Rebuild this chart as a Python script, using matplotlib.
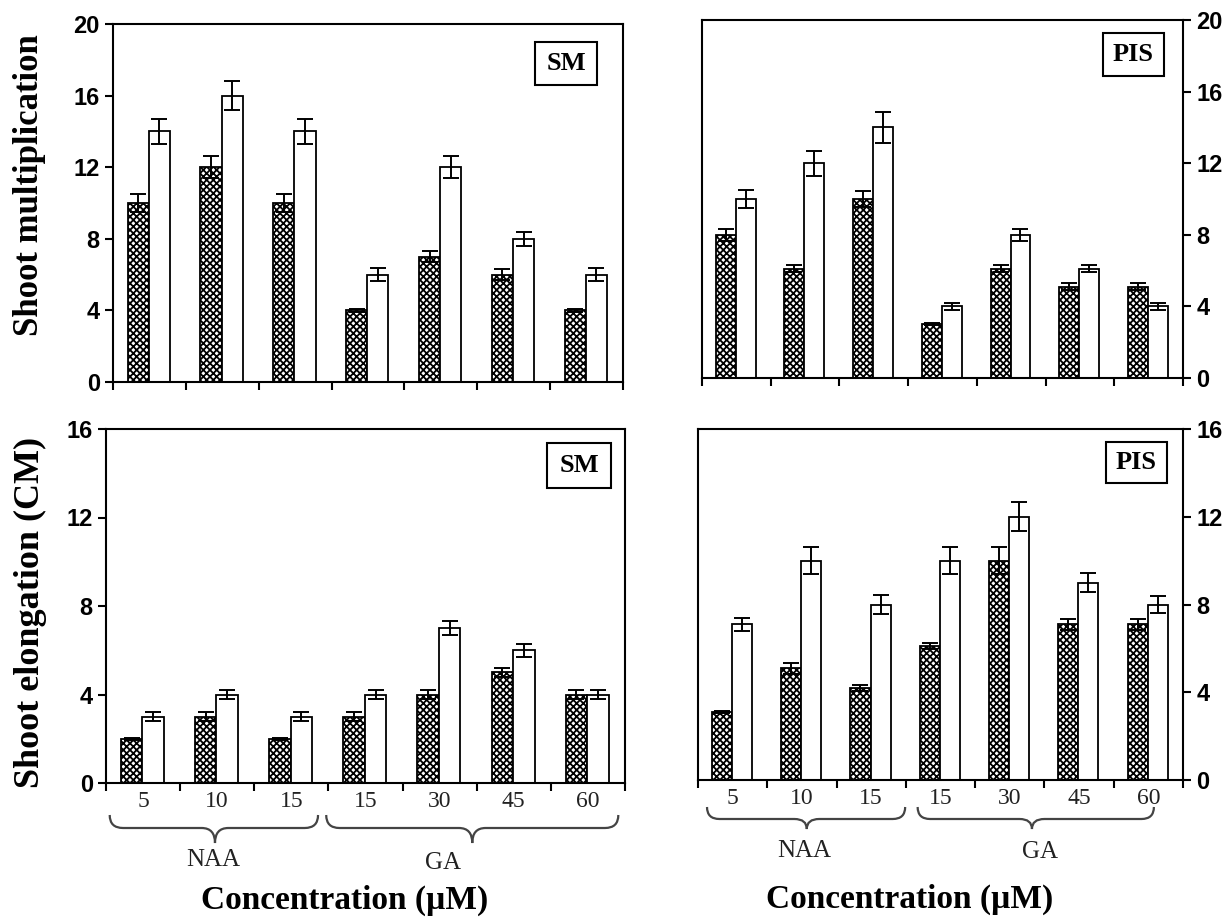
import matplotlib
matplotlib.use('Agg')
import matplotlib.pyplot as plt
from matplotlib.patches import Rectangle, PathPatch
from matplotlib.path import Path
from matplotlib.transforms import blended_transform_factory
import numpy as np

# ---------------- data ----------------
conc_labels = ["5", "10", "15", "15", "30", "45", "60"]
groups = ["NAA", "GA"]

sm_mult_hatched = [10, 12, 10, 4, 7, 6, 4]
sm_mult_hatched_err = [0.5, 0.6, 0.5, 0.1, 0.3, 0.3, 0.1]
sm_mult_open = [14, 16, 14, 6, 12, 8, 6]
sm_mult_open_err = [0.7, 0.8, 0.7, 0.35, 0.6, 0.4, 0.35]

pis_mult_hatched = [8, 6.1, 10, 3, 6.1, 5.1, 5.1]
pis_mult_hatched_err = [0.35, 0.2, 0.45, 0.05, 0.2, 0.2, 0.2]
pis_mult_open = [10, 12, 14, 4, 8, 6.1, 4]
pis_mult_open_err = [0.5, 0.7, 0.85, 0.2, 0.35, 0.2, 0.2]

sm_elong_hatched = [2, 3, 2, 3, 4, 5, 4]
sm_elong_hatched_err = [0.05, 0.2, 0.05, 0.2, 0.2, 0.2, 0.2]
sm_elong_open = [3, 4, 3, 4, 7, 6, 4]
sm_elong_open_err = [0.2, 0.2, 0.2, 0.2, 0.3, 0.3, 0.2]

pis_elong_hatched = [3.1, 5.1, 4.2, 6.1, 10, 7.1, 7.1]
pis_elong_hatched_err = [0.05, 0.25, 0.15, 0.15, 0.6, 0.25, 0.25]
pis_elong_open = [7.1, 10, 8, 10, 12, 9, 8]
pis_elong_open_err = [0.3, 0.6, 0.45, 0.6, 0.65, 0.45, 0.4]

# ---------------- style ----------------
plt.rcParams['hatch.linewidth'] = 1.3
SERIF = ['Liberation Serif', 'DejaVu Serif']
SANS = ['Liberation Sans Narrow', 'Liberation Sans', 'DejaVu Sans']

W, H = 1231, 923
fig = plt.figure(figsize=(W / 100, H / 100), dpi=100)


def ax_px(x0, y0, x1, y1):
    return fig.add_axes([x0 / W, 1 - y1 / H, (x1 - x0) / W, (y1 - y0) / H])


def draw_panel(ax, hat, hat_err, opn, opn_err, ymax, right=False, xlabels=False):
    n = len(hat)
    x = np.arange(n)
    w = 0.29
    ekw = dict(ecolor='black', elinewidth=1.4, capsize=6, capthick=1.4)
    ax.bar(x + 0.345, hat, w, yerr=hat_err, color='white', edgecolor='black',
           hatch='xxxxx', linewidth=1.3, error_kw=ekw, zorder=2)
    ax.bar(x + 0.635, opn, w, yerr=opn_err, color='white', edgecolor='black',
           linewidth=1.3, error_kw=ekw, zorder=2)
    ax.set_xlim(0, n)
    ax.set_ylim(0, ymax)
    ax.set_xticks(np.arange(n + 1))
    ax.set_xticklabels([])
    ax.set_yticks(np.arange(0, ymax + 1, 4))
    for s in ax.spines.values():
        s.set_linewidth(1.5)
    ax.tick_params(axis='both', which='major', direction='out', length=6, width=1.5)
    if right:
        ax.yaxis.tick_right()
    for lab in ax.get_yticklabels():
        lab.set_fontfamily(SANS)
        lab.set_fontweight('bold')
        lab.set_fontsize(17)
    if xlabels:
        ax.set_xticks(x + 0.5, minor=True)
        ax.set_xticklabels(conc_labels, minor=True, fontfamily=SERIF,
                           fontsize=17, color='#222222')
        ax.tick_params(axis='x', which='minor', length=0, pad=6)


def brace(ax, x0, x1, xm, y_top, y_line, y_tip, r=0.18):
    verts = [(x0, y_top), (x0, y_line), (x0 + r, y_line),
             (xm - r, y_line), (xm, y_line), (xm, y_tip),
             (xm, y_line), (xm + r, y_line),
             (x1 - r, y_line), (x1, y_line), (x1, y_top)]
    codes = [Path.MOVETO, Path.CURVE3, Path.CURVE3,
             Path.LINETO, Path.CURVE3, Path.CURVE3,
             Path.CURVE3, Path.CURVE3,
             Path.LINETO, Path.CURVE3, Path.CURVE3]
    tr = blended_transform_factory(ax.transData, ax.transAxes)
    ax.add_patch(PathPatch(Path(verts, codes), fill=False, lw=1.6,
                           edgecolor='#444444', transform=tr, clip_on=False))


def legend_box(text, x0, y0, x1, y1):
    fig.add_artist(Rectangle((x0 / W, 1 - y1 / H), (x1 - x0) / W, (y1 - y0) / H,
                             transform=fig.transFigure, fill=True, facecolor='white',
                             edgecolor='black', lw=1.5))
    fig.text((x0 + x1) / 2 / W, 1 - (y0 + y1) / 2 / H, text, ha='center', va='center',
             fontfamily=SERIF, fontweight='bold', fontsize=19)


# ---------------- panels ----------------
ax1 = ax_px(113, 24, 623, 382)
draw_panel(ax1, sm_mult_hatched, sm_mult_hatched_err, sm_mult_open, sm_mult_open_err, 20)

ax2 = ax_px(702, 20, 1183, 378)
draw_panel(ax2, pis_mult_hatched, pis_mult_hatched_err, pis_mult_open, pis_mult_open_err, 20,
           right=True)

ax3 = ax_px(106, 429, 625, 783)
draw_panel(ax3, sm_elong_hatched, sm_elong_hatched_err, sm_elong_open, sm_elong_open_err, 16,
           xlabels=True)

ax4 = ax_px(698, 429, 1183, 780)
draw_panel(ax4, pis_elong_hatched, pis_elong_hatched_err, pis_elong_open, pis_elong_open_err, 16,
           right=True, xlabels=True)

# braces and group labels (bottom panels)
h3 = 354.0
t3 = blended_transform_factory(ax3.transData, ax3.transAxes)
brace(ax3, 0.05, 2.86, 1.47, -32 / h3, -45 / h3, -60 / h3)
brace(ax3, 2.97, 6.91, 4.94, -32 / h3, -45 / h3, -60 / h3)
ax3.text(1.45, -77 / h3, groups[0], transform=t3,
         ha='center', va='center', fontfamily=SERIF, fontsize=18, color='#222222')
ax3.text(4.55, -80 / h3, groups[1], transform=t3,
         ha='center', va='center', fontfamily=SERIF, fontsize=18, color='#222222')

h4 = 351.0
t4 = blended_transform_factory(ax4.transData, ax4.transAxes)
brace(ax4, 0.13, 2.99, 1.57, -27 / h4, -39 / h4, -49 / h4)
brace(ax4, 3.17, 6.58, 4.82, -27 / h4, -39 / h4, -49 / h4)
ax4.text(1.54, -71 / h4, groups[0], transform=t4,
         ha='center', va='center', fontfamily=SERIF, fontsize=18, color='#222222')
ax4.text(4.94, -72 / h4, groups[1], transform=t4,
         ha='center', va='center', fontfamily=SERIF, fontsize=18, color='#222222')

# axis titles
fig.text(30 / W, 1 - 185 / H, "Shoot multiplication", rotation=90, ha='center', va='center',
         fontfamily=SERIF, fontweight='bold', fontsize=25)
fig.text(30 / W, 1 - 612 / H, "Shoot elongation (CM)", rotation=90, ha='center', va='center',
         fontfamily=SERIF, fontweight='bold', fontsize=26)
fig.text(345 / W, 1 - 900 / H, "Concentration (\u00b5M)", ha='center', va='center',
         fontfamily=SERIF, fontweight='bold', fontsize=24)
fig.text(910 / W, 1 - 899 / H, "Concentration (\u00b5M)", ha='center', va='center',
         fontfamily=SERIF, fontweight='bold', fontsize=24)

# panel tags
legend_box("SM", 535, 42, 597, 85)
legend_box("PIS", 1103, 33, 1164, 76)
legend_box("SM", 547, 443, 611, 488)
legend_box("PIS", 1106, 442, 1167, 483)

fig.savefig('out.png', dpi=100, facecolor='white')
